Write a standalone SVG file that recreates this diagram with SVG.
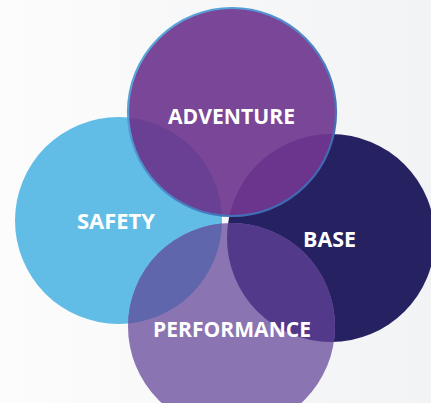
<svg xmlns="http://www.w3.org/2000/svg" width="431" height="403" viewBox="0 0 431 403">
  <defs>
    <linearGradient id="bg" x1="0" y1="0" x2="1" y2="0">
      <stop offset="0" stop-color="#fcfcfd"/>
      <stop offset="1" stop-color="#f2f3f4"/>
    </linearGradient>
    <linearGradient id="ring" x1="0" y1="0" x2="1" y2="1">
      <stop offset="0" stop-color="#5fb3e3"/>
      <stop offset="1" stop-color="#3b5cab"/>
    </linearGradient>
    <clipPath id="clipAdventure"><circle cx="232" cy="112" r="104"/></clipPath>
    <clipPath id="clipPerformance"><circle cx="231.5" cy="326.5" r="103.5"/></clipPath>
    <style>
      .label { font-family: "Open Sans", "Liberation Sans", sans-serif; font-weight: 700; font-size: 20.5px; fill: #ffffff; text-anchor: middle; }
    </style>
  </defs>

  <rect width="431" height="403" fill="url(#bg)"/>

  <g id="safety">
    <circle cx="118.5" cy="220.5" r="103.5" fill="#62bde6"/>
    <text class="label" x="116" y="229" textLength="78" lengthAdjust="spacingAndGlyphs">SAFETY</text>
  </g>

  <g id="base">
    <circle cx="331" cy="238" r="104" fill="#262262"/>
    <text class="label" x="329.5" y="247" textLength="53" lengthAdjust="spacingAndGlyphs">BASE</text>
  </g>

  <g id="performance">
    <circle cx="231.5" cy="326.5" r="103.5" fill="#8a74b2"/>
    <!-- shared areas with Safety and Base -->
    <g clip-path="url(#clipPerformance)">
      <circle cx="118.5" cy="220.5" r="103.5" fill="#6066ac"/>
      <circle cx="331" cy="238" r="104" fill="#52398a"/>
    </g>
    <text class="label" x="232" y="337" textLength="158" lengthAdjust="spacingAndGlyphs">PERFORMANCE</text>
  </g>

  <g id="adventure">
    <circle cx="232" cy="112" r="104" fill="#7a4697"/>
    <!-- shared areas with Safety and Base -->
    <g clip-path="url(#clipAdventure)">
      <circle cx="118.5" cy="220.5" r="103.5" fill="#6a4094"/>
      <circle cx="331" cy="238" r="104" fill="#6b348d"/>
    </g>
    <circle cx="232" cy="112" r="104" fill="none" stroke="url(#ring)" stroke-width="2.2"/>
    <text class="label" x="231.5" y="124" textLength="127" lengthAdjust="spacingAndGlyphs">ADVENTURE</text>
  </g>
</svg>
